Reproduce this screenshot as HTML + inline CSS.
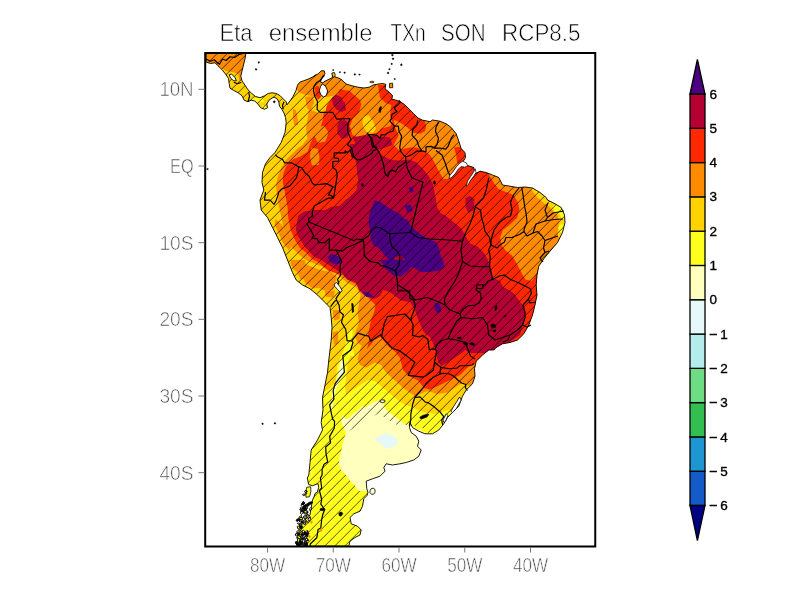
<!DOCTYPE html>
<html><head><meta charset="utf-8"><title>Eta ensemble TXn SON RCP8.5</title>
<style>
html,body{margin:0;padding:0;background:#fff;}
body{width:800px;height:600px;overflow:hidden;position:relative;font-family:"Liberation Sans",sans-serif;}
svg{position:absolute;left:0;top:0;display:block}
text{font-family:"Liberation Sans",sans-serif}
.ax{fill:#4e4e4e;font-size:21px;stroke:#fff;stroke-width:0.65px;paint-order:fill stroke}
.tt{fill:#000;font-size:24.6px;stroke:#fff;stroke-width:0.65px;paint-order:fill stroke}
.cb{fill:#000;font-size:13.5px;stroke:#000;stroke-width:0.35px}
</style></head><body>
<svg width="800" height="600" viewBox="0 0 800 600">
<defs>
<clipPath id="land"><path clip-rule="evenodd" d="M206,53.3 245.8,53.3 245,59 243.5,65 242,71 240.8,76.2 242,80.8 245,85.2 248,89.8 251.8,93.5 255.5,96.5 260,97.7 264.5,95.8 268.2,93.5 272,92.8 276.5,93.5 280.2,95.8 283.2,98.8 286.2,101.8 287,104.8 290,101 293,96.5 296,90.5 297.5,85.2 299.8,82.2 303.5,80.8 308,79.2 312.5,77 316.2,74.8 314.5,76 318.2,73.8 321.2,70.8 324.2,70.8 325,73.8 322.8,76 321.2,79 320.5,82 322.8,82.8 325,81.2 329.5,79 332.5,77.5 332.2,73.8 334,73 334.8,76.8 337,77.5 340.8,79 343.8,82 346.8,84.2 352,85.8 358,87.2 364,88 369.2,87.2 373,85 377.5,84.2 382,83.5 385.8,84.2 385,88.8 389.5,92.5 392.5,95.5 391.8,99.2 395.5,100 400,101.5 404.5,104.5 409,109 413.5,113.5 418,118 422.5,120.2 427,121 430,121.8 432.5,120 440,121.2 446.2,123.8 451.2,127.5 456.2,133.8 458.8,141.2 461.2,148.8 465,152.5 465.5,157.5 462.5,162.5 461.2,166.2 467.5,165.5 473.8,167.5 475,173.8 480,171.2 486.2,172.5 492.5,175 498.8,177.5 502.5,185 510,186.2 517.5,187.5 525,187 532.5,188 540,192.5 546.2,197.5 547.5,200 555,203.8 561.2,207.5 564.5,215 565,222.5 562.5,232.5 557.5,242.5 550,251.2 543.8,258.8 538.8,266.2 537,275 536.2,285 537,295 535,305 532.5,315 528.8,325 523.8,333.8 517.5,340 510,342.5 502.5,343.8 496.2,347.5 493.8,350 488.8,350 482.5,355 476.2,361.2 474.5,368.8 475,376.2 472.5,383.8 466.2,390 462.5,396.2 458.8,406.2 452.5,412.5 447.5,417.5 443.8,423.8 438.8,430 432.5,433.8 425,433.8 418.8,431.2 412.5,427.5 410,422.5 409.5,427.5 411.2,432.5 416.2,436.2 418.8,441.2 417.5,446.2 421.2,450 418.8,456.2 413.8,460 406.2,462.5 400,463.8 392.5,465 386.2,463.8 383.8,467.5 385,471.2 380,476.2 372.5,478.8 366.2,481.2 366.8,488.8 368,492.5 367,495.5 363.8,498.8 362.5,506.2 360,511.2 353.8,513.8 350,517.5 351.2,523.8 357.5,526.2 361.2,530 360,535 355,537.5 350,541.2 348.8,546.2 297.5,546.2 297.5,540 298.8,532.5 300,525 305,520 310,515 311.2,507.5 312.5,500 314,497 315,493.5 317.3,492 318.7,487.5 318,483.5 312.7,485.7 308.7,484.7 307.3,478 308.8,475 310,462.5 311.2,450 317.5,440 322.5,430 321.2,422.5 323,410 322.5,397.5 325,385 327.5,372.5 328.8,360 330,350 331.2,340 332,327.5 331.2,317.5 330,307.5 325,302.5 317.5,295 310,288.8 302.5,285 296.2,280 292.5,272.5 287.5,260 282.5,247.5 277.5,237.5 272.5,227.5 267.5,217.5 261.2,210 260,200 263.8,190 262,182.5 262.5,172.5 265.5,163.8 270,157.5 275,152.5 281.2,142.5 285,132.5 286.2,122.5 285.5,117.5 284,113 281.8,109.2 279.5,106.2 278.8,101.8 277.2,98.8 274.2,97.2 272,98 269,100.2 266.8,104 267.5,107.8 264.5,109.2 260.8,107.8 257.8,104 254.8,101 251,100.2 248,101.8 244.2,100.2 242,95.8 238.2,92.8 233.8,90.5 230,88.2 229.2,83.8 228.5,78.5 225.5,74 221.8,69.5 218,65.8 215,62.8 210.5,63.5 206,62ZM322.3,83.8 325.8,86.5 327.6,91 326.4,95.5 323.5,97 320.6,94.5 319.3,90.5 320.6,86.5ZM229.2,74.8 231.5,74 235.2,77.8 236.3,80.8 233.8,80.8 230.8,78.5Z"/></clipPath>
<clipPath id="frame"><rect x="205.2" y="53" width="389.75" height="493.5"/></clipPath>
</defs>
<g clip-path="url(#frame)">
<g clip-path="url(#land)">
<rect x="200" y="50" width="400" height="500" fill="#ffff1e"/>
<path fill="#ffffbe" d="M378.5,400.2 372.5,402.5 365,407.8 362,405.5 359,410 354.5,413 350,417.5 345.5,419 342.5,415.2 341,419 342.5,425 346.2,432.5 344,438.5 342.5,444.5 341,452 339.5,458 338.8,464 341,470 345.5,474.5 350,480.5 354.5,485 359,491 365,491 392,491 425,470 425,432.5 408.5,425 404,423.5 398,419 392,414.5 386,410 383,404Z"/>
<path fill="#e6f8f8" d="M371.8,437.8 375.5,438.5 380,435.5 386,433.2 390.5,434.8 395,437 398,440 397.2,443.8 393.5,446.8 389,448.7 384.5,447.5 381.5,444.5 377.8,441.5 374,439.2Z"/>
<path fill="#ffffbe" d="M340,361.2 342.8,360.6 344.4,365 343.8,371.2 341.9,376.2 339.4,381.2 336.9,387.5 334.4,393.8 333.1,402.5 332.5,410 330.6,410 331.2,400 333.1,390 335.6,382.5 338.1,375 339.4,367.5Z"/>
<path fill="#e6f8f8" d="M341.2,369.4 343.5,368.1 343.5,372.5 341.2,377.5 339.4,380 339.8,375Z"/>
<path fill="#ffd200" d="M352.5,330 352.5,340 351.25,352.5 347.5,365 346.25,375 345,387.5 346.25,395 352.5,390 360,385 368.75,380 375,381.25 382.5,387.5 390,393.75 397.5,400 405,405 412.5,407 417.5,410 425,412.5 435,413.75 445,411 452.5,408.75 458.75,403.75 466,397.5 620,380 620,40 180,40 180,420 322,420 324,392 330,388 336,382 337,365 343,352 347,340 349,330Z"/>
<path fill="#ffff1e" d="M552.5,206.25 557,203 566,206 568,218.75 561.9,218.75 559.4,213.75 555,211.25Z"/>
<path fill="#ffff1e" d="M560,224.4 568,224 568,232 560,232 558.5,228Z"/>
<path fill="#ffff1e" d="M251.8,98 263,97.7 263.8,101.8 257,102.5 251.8,101Z"/>
<path fill="#ffff1e" d="M261.5,106.2 266,105.5 268.2,108.5 264.5,110 260.8,108.8Z"/>
<path fill="#ffff1e" d="M345.5,344 351.5,343.2 353,350 354.5,356 344,356Z"/>
<path fill="#ff8c00" d="M363.75,338 360,350 357.5,358.75 360,365 366.25,367.5 375,362.5 381.25,365 385,371.25 391.25,377.5 397.5,382.5 402.5,387.5 407.5,391 415,396 420,394 427.5,391 437.5,394 447.5,392.5 455,387.5 462.5,382.5 470,386 620,380 620,237.5 558.75,237.5 557.5,233.75 558,227.5 559.4,221.25 557.5,215 552.5,210.6 548.75,206.25 543.75,203 537.5,197.5 532.5,191.25 528,186 528,170 620,120 620,40 290,40 292,92 296,89 300,93 306,95 312,96 318,98 326,112 318,113 311,110 309,110 307.5,119 306,129.5 307.5,138.5 303,144.5 297,149 291,155 285,161 280.5,170 277.5,177.5 276,186.5 277,195 279,207 281.5,217.5 283.75,229.5 287.5,240 292,247.5 299.5,255 306,260 313,263 320,266 324.5,266 332,271 339.5,276 347,282.5 356,287 360.5,294.5 359,303.5 357.5,312.5 359,323 356,330.5 355,337 358,343 362,346Z"/>
<path fill="#ff8c00" d="M204.5,51.5 248,51.5 245,65 243.5,74 242,80.8 239.3,80 238.2,74 234.5,72.5 226.2,71 218,65.8 215,62.8 210.5,63.5 204.5,62Z"/>
<path fill="#ffd200" d="M315,99 320,97 327,97 332,96 336,98 334,103 330,107 326,110 322,112 318,109 316,104Z"/>
<path fill="#ffd200" d="M363.2,116.5 368.5,115 373,121 376,128.5 373,133 367,132.2 363.2,127 362.5,121Z"/>
<path fill="#ff8c00" d="M290,260 305,260 306.5,267.5 299,270.5 293,266Z"/>
<path fill="#ff8c00" d="M303.5,275 320,276.5 321.5,287 312.5,288.5 305,282.5Z"/>
<path fill="#ff8c00" d="M324.5,290 335,290.8 333.5,297.5 326,296.8Z"/>
<path fill="#ff8c00" d="M296,269 309.5,266 311,278 300.5,279.5Z"/>
<path fill="#ff8c00" d="M290,263 296,260 305,264 320,270 332,272 337,277 333,290 323,290 315,286 305,282 302,274 294,270Z"/>
<path fill="#ff8c00" d="M275.5,219 282.2,225 286,235.5 292,246 289,250.5 283,243 278.5,232.5 274.8,225Z"/>
<path fill="#ff8c00" d="M293,109 296,110 297.5,117 298,125 294,125 293,117Z"/>
<path fill="#ff8c00" d="M305,97 313,96 314,103 310,111 307,108Z"/>
<path fill="#ff8c00" d="M332.5,310 340,310 339.7,319 334,320.5Z"/>
<path fill="#ff8c00" d="M332.5,332.5 337.8,331 338.5,343 334,345.2Z"/>
<path fill="#ff2800" d="M325,113 324,110 323,119 321,126.5 315,134 310.5,143 307.5,152 300,156.5 292.5,159.5 286.5,165.5 283.5,173 282.75,182 284.5,190 285.25,195 287.5,207 288.25,217.5 290.5,229.5 295,240 299.5,247.5 307,253.5 312,259 318,262 323,266.5 328,270.5 334,272.5 340,275 342.5,275 350,281 359,285.5 365,294.5 371,300.5 375.5,305 374,312.5 371,320 369.5,327.5 368,335 370,337 367,349 374.5,340 380.5,337 388,346 395.5,352 400,358 403,370 409,376 418,380.5 424,388 430,389.5 440,385 450,380 460,375 467.5,367.5 476,363 620,360 620,272 537.5,270.5 536,275 531.5,281 525.5,279.5 521,272 516.5,263 512,255.5 506,251 501.5,245 500,237.5 503,230 510.5,224 517,218 519.5,210 518,202.5 513.5,195 506,192 498.5,189 494,183 489.5,175.5 488,165 470,160 455,168 451,174.5 448,179 443.5,179 439,171.5 434.5,162.5 430,155 424,150.5 416.5,147.5 410.5,147.5 405,148.5 398.75,150 393.75,145 396.25,140 398.75,135 395,127.5 393.75,120 400,122.5 407.5,127.5 412.5,132.5 420,133.75 425,131.25 426.25,126.25 424,118 410,100 392,85 378,85 378.75,90 380,97.5 385,102.5 391.25,105 390,116.25 392.5,122.5 390,126.25 381.25,128.75 377.5,132.5 367.5,135 358.75,137.5 352.5,135 350,126.25 352.5,118.75 358.75,112.5 361.25,105 360,100 354,95 350,91 344,90 340,89 338,94 332,98 327,105Z"/>
<path fill="#ff8c00" d="M311.2,147.5 318,149 319.5,158 318.8,164.8 312,165.5 309.8,156.5Z"/>
<path fill="#ff8c00" d="M315,128 324,125.8 328.5,132.5 325.5,141.5 318,143 314.2,135.5Z"/>
<path fill="#ff2800" d="M315,87 318.5,85.5 320,91 321,97 318,100 315.5,95Z"/>
<path fill="#ff2800" d="M454,147.5 460,146.8 464.5,152 465.2,156.5 463,161 460,164.8 457,162.5 456.2,155Z"/>
<path fill="#ff2800" d="M415,123.5 422.5,124.2 424,130.2 418,132.5 414.2,128.8Z"/>
<path fill="#ff2800" d="M383.5,291.5 391,293 400,299 401.5,305 383.5,305Z"/>
<path fill="#b40032" d="M356.5,145 364,143.5 370,142 374.5,139 379,143.5 377.5,149.5 382,155.5 391,160 400,160.5 409,159.5 416.5,162.5 422.5,168.5 428.5,176 433,184 435,195 437.5,208 440.5,213 446,216 453.5,222 461,228 465,235 470,243.5 477.5,246.5 483.5,252.5 488,260 491,269 492.5,278 500,281 503,287 509,290 515,294.5 519,300.5 523,306 525,313 523,325 520,335 512.5,340 500,345 490,353 470,353 465,350 462.5,352.5 455,357.5 447.5,362.5 441,366 437.5,360 435,348 430,337 424,332.5 418,319 415,310 410,302 401,300.5 395,296 389,291.5 383,290 380,296 374,299 365,296 359,290 356,282.5 347,279.5 342.5,273.5 335,269 327.5,264 320,259 314,257 310,252 305,247 301,241 298,236 296,230 296.5,225 298,216 304,211.5 314.5,210 325,210 331,207 340,205.5 346,199.5 349,197.5 356.5,190 358,179.5 356.5,167.5 355,155.5Z"/>
<path fill="#b40032" d="M332,98 336,95 341,97 345,105 346,110 342,112 337,110 333,105Z"/>
<path fill="#b40032" d="M340,120 347.5,121.2 350,130 347.5,137.5 340,137.5Z"/>
<path fill="#b40032" d="M352.5,137.5 365,135 377.5,136.2 390,137.5 392.5,145 377.5,150 358.8,150Z"/>
<path fill="#b40032" d="M338.5,122.5 344.5,119.5 349,125.5 348.2,136 343,139 337.8,134.5Z"/>
<path fill="#b40032" d="M340,101.2 345,101.9 345.6,109.4 340,110Z"/>
<path fill="#b40032" d="M465.5,198 470,195.8 474.5,199.5 473.8,210 468.5,213 465.5,207Z"/>
<path fill="#b40032" d="M337.5,125 348,123.5 349.5,132.5 343.5,137 337.5,134Z"/>
<path fill="#b40032" d="M349.5,144.5 360,143 361.5,161 354,159.5 350.2,152Z"/>
<path fill="#4b0082" d="M374.5,200.5 380.5,202 386.5,206.5 394,211 400,214 404.5,219 407.5,219.5 410.5,225.5 415,230 421,234.5 428.5,239 436,242 439,248 440.5,255.5 443.5,261.5 444.25,267.5 439,270.5 430,272 421,272 413.5,267.5 406,267.5 400,269 397,272 392.5,275 389.5,270.5 383.5,267.5 385,263 388,258.5 383.5,254 379,248 373,245 370.75,239 370,230 368.5,222.5 369.25,215 371.5,208Z"/>
<path fill="#b40032" d="M394,257.8 400,255.5 404.5,258.5 403,263.8 396.2,264.5Z"/>
<path fill="#4b0082" d="M435,302.5 440,303.8 441.2,311.2 437.5,313.8 434.5,308.8Z"/>
<path fill="#4b0082" d="M328,257 331,254 336,255 340,258 342,261 340,264 335,264 330,261.5Z"/>
<path fill="#4b0082" d="M409,187.8 412.8,186.2 413.5,191.5 410.5,193Z"/>
<path fill="#4b0082" d="M404.5,205.8 410.5,204.2 412.8,211 407.5,212.5Z"/>
<path fill="#4b0082" d="M362.5,291.5 370,293 373.8,297.5 367,296.8Z"/>
<path fill="#4b0082" d="M362,291.5 368,292.2 371.8,296.8 366.5,296.8Z"/>
<path fill="#4b0082" d="M380,260 410,260 410,269 401,276.5 393.5,275 386,269Z"/>
<path fill="#4b0082" d="M329,260 341,260 339.5,263 332,263Z"/>
<clipPath id="hz"><path clip-rule="evenodd" d="M190,40H610V560H190ZM351.5,429.5 377.8,413.8 384.5,417.5 390.5,421.2 397.2,425 410,425 428,429.5 428,473 392,491 365,491 359,491 354.5,485 350,480.5 345.5,474.5 341,470 338.8,464 339.5,458 341,452 342.5,444.5 344,438.5 346.2,432.5Z"/></clipPath>
<g clip-path="url(#hz)"><path d="M200.75,0L-399.25,600M210.75,0L-389.25,600M220.75,0L-379.25,600M230.75,0L-369.25,600M240.75,0L-359.25,600M250.75,0L-349.25,600M260.75,0L-339.25,600M270.75,0L-329.25,600M280.75,0L-319.25,600M290.75,0L-309.25,600M300.75,0L-299.25,600M310.75,0L-289.25,600M320.75,0L-279.25,600M330.75,0L-269.25,600M340.75,0L-259.25,600M350.75,0L-249.25,600M360.75,0L-239.25,600M370.75,0L-229.25,600M380.75,0L-219.25,600M390.75,0L-209.25,600M400.75,0L-199.25,600M410.75,0L-189.25,600M420.75,0L-179.25,600M430.75,0L-169.25,600M440.75,0L-159.25,600M450.75,0L-149.25,600M460.75,0L-139.25,600M470.75,0L-129.25,600M480.75,0L-119.25,600M490.75,0L-109.25,600M500.75,0L-99.25,600M510.75,0L-89.25,600M520.75,0L-79.25,600M530.75,0L-69.25,600M540.75,0L-59.25,600M550.75,0L-49.25,600M560.75,0L-39.25,600M570.75,0L-29.25,600M580.75,0L-19.25,600M590.75,0L-9.25,600M600.75,0L0.75,600M610.75,0L10.75,600M620.75,0L20.75,600M630.75,0L30.75,600M640.75,0L40.75,600M650.75,0L50.75,600M660.75,0L60.75,600M670.75,0L70.75,600M680.75,0L80.75,600M690.75,0L90.75,600M700.75,0L100.75,600M710.75,0L110.75,600M720.75,0L120.75,600M730.75,0L130.75,600M740.75,0L140.75,600M750.75,0L150.75,600M760.75,0L160.75,600M770.75,0L170.75,600M780.75,0L180.75,600M790.75,0L190.75,600M800.75,0L200.75,600M810.75,0L210.75,600M820.75,0L220.75,600M830.75,0L230.75,600M840.75,0L240.75,600M850.75,0L250.75,600M860.75,0L260.75,600M870.75,0L270.75,600M880.75,0L280.75,600M890.75,0L290.75,600M900.75,0L300.75,600M910.75,0L310.75,600M920.75,0L320.75,600M930.75,0L330.75,600M940.75,0L340.75,600M950.75,0L350.75,600M960.75,0L360.75,600M970.75,0L370.75,600M980.75,0L380.75,600M990.75,0L390.75,600M1000.75,0L400.75,600M1010.75,0L410.75,600M1020.75,0L420.75,600M1030.75,0L430.75,600M1040.75,0L440.75,600M1050.75,0L450.75,600M1060.75,0L460.75,600M1070.75,0L470.75,600M1080.75,0L480.75,600M1090.75,0L490.75,600M1100.75,0L500.75,600M1110.75,0L510.75,600M1120.75,0L520.75,600M1130.75,0L530.75,600M1140.75,0L540.75,600M1150.75,0L550.75,600M1160.75,0L560.75,600M1170.75,0L570.75,600M1180.75,0L580.75,600M1190.75,0L590.75,600" stroke="#000" stroke-opacity="0.9" stroke-width="0.75" fill="none"/></g>
</g>
<path d="M206,53.3 245.8,53.3 245,59 243.5,65 242,71 240.8,76.2 242,80.8 245,85.2 248,89.8 251.8,93.5 255.5,96.5 260,97.7 264.5,95.8 268.2,93.5 272,92.8 276.5,93.5 280.2,95.8 283.2,98.8 286.2,101.8 287,104.8 290,101 293,96.5 296,90.5 297.5,85.2 299.8,82.2 303.5,80.8 308,79.2 312.5,77 316.2,74.8 314.5,76 318.2,73.8 321.2,70.8 324.2,70.8 325,73.8 322.8,76 321.2,79 320.5,82 322.8,82.8 325,81.2 329.5,79 332.5,77.5 332.2,73.8 334,73 334.8,76.8 337,77.5 340.8,79 343.8,82 346.8,84.2 352,85.8 358,87.2 364,88 369.2,87.2 373,85 377.5,84.2 382,83.5 385.8,84.2 385,88.8 389.5,92.5 392.5,95.5 391.8,99.2 395.5,100 400,101.5 404.5,104.5 409,109 413.5,113.5 418,118 422.5,120.2 427,121 430,121.8 432.5,120 440,121.2 446.2,123.8 451.2,127.5 456.2,133.8 458.8,141.2 461.2,148.8 465,152.5 465.5,157.5 462.5,162.5 461.2,166.2 467.5,165.5 473.8,167.5 475,173.8 480,171.2 486.2,172.5 492.5,175 498.8,177.5 502.5,185 510,186.2 517.5,187.5 525,187 532.5,188 540,192.5 546.2,197.5 547.5,200 555,203.8 561.2,207.5 564.5,215 565,222.5 562.5,232.5 557.5,242.5 550,251.2 543.8,258.8 538.8,266.2 537,275 536.2,285 537,295 535,305 532.5,315 528.8,325 523.8,333.8 517.5,340 510,342.5 502.5,343.8 496.2,347.5 493.8,350 488.8,350 482.5,355 476.2,361.2 474.5,368.8 475,376.2 472.5,383.8 466.2,390 462.5,396.2 458.8,406.2 452.5,412.5 447.5,417.5 443.8,423.8 438.8,430 432.5,433.8 425,433.8 418.8,431.2 412.5,427.5 410,422.5 409.5,427.5 411.2,432.5 416.2,436.2 418.8,441.2 417.5,446.2 421.2,450 418.8,456.2 413.8,460 406.2,462.5 400,463.8 392.5,465 386.2,463.8 383.8,467.5 385,471.2 380,476.2 372.5,478.8 366.2,481.2 366.8,488.8 368,492.5 367,495.5 363.8,498.8 362.5,506.2 360,511.2 353.8,513.8 350,517.5 351.2,523.8 357.5,526.2 361.2,530 360,535 355,537.5 350,541.2 348.8,546.2 297.5,546.2 297.5,540 298.8,532.5 300,525 305,520 310,515 311.2,507.5 312.5,500 314,497 315,493.5 317.3,492 318.7,487.5 318,483.5 312.7,485.7 308.7,484.7 307.3,478 308.8,475 310,462.5 311.2,450 317.5,440 322.5,430 321.2,422.5 323,410 322.5,397.5 325,385 327.5,372.5 328.8,360 330,350 331.2,340 332,327.5 331.2,317.5 330,307.5 325,302.5 317.5,295 310,288.8 302.5,285 296.2,280 292.5,272.5 287.5,260 282.5,247.5 277.5,237.5 272.5,227.5 267.5,217.5 261.2,210 260,200 263.8,190 262,182.5 262.5,172.5 265.5,163.8 270,157.5 275,152.5 281.2,142.5 285,132.5 286.2,122.5 285.5,117.5 284,113 281.8,109.2 279.5,106.2 278.8,101.8 277.2,98.8 274.2,97.2 272,98 269,100.2 266.8,104 267.5,107.8 264.5,109.2 260.8,107.8 257.8,104 254.8,101 251,100.2 248,101.8 244.2,100.2 242,95.8 238.2,92.8 233.8,90.5 230,88.2 229.2,83.8 228.5,78.5 225.5,74 221.8,69.5 218,65.8 215,62.8 210.5,63.5 206,62ZM322.3,83.8 325.8,86.5 327.6,91 326.4,95.5 323.5,97 320.6,94.5 319.3,90.5 320.6,86.5ZM229.2,74.8 231.5,74 235.2,77.8 236.3,80.8 233.8,80.8 230.8,78.5Z" fill="none" stroke="#000" stroke-width="0.9" stroke-linejoin="round"/>
<path d="M324.5,75.1 320.1,80.5 316.8,82.4 313.9,86.3 313.5,90.9 314.8,96.2 317.5,101.6 317.1,109.3 320.1,112.3 326.7,112.3 332.6,112.3 336.9,119.2 350,118.5 347.7,125.4 347.7,131.5 351,139.9 347.4,144.5 351.7,148.4 353.8,156.6" fill="none" stroke="#000" stroke-width="1.2" stroke-linejoin="round"/>
<path d="M353.8,156.6 357.6,160.2 362.2,158.7 365.5,157.2 370.1,154.5 372,153.3 373,150.7 376.6,149.5 376.6,147.2 372.4,146.8 371.4,142.2 371.1,138.4 368.1,134.6 372,134.6 377.3,135.7 379.9,138.4 381.2,134.9 385.2,134.6 389.1,132.3 393.1,131.1 394.4,126.1" fill="none" stroke="#000" stroke-width="1.2" stroke-linejoin="round"/>
<path d="M394.4,126.1 389.8,120.8 391.4,118.5 391.8,114.6 397,111.6 395.1,109.3 394.4,107.7 399,103.9 400.3,102.4 399,100.4" fill="none" stroke="#000" stroke-width="1.2" stroke-linejoin="round"/>
<path d="M394.4,126.1 398.3,126.1 399.1,131.5 401.6,136.1 399.7,147.6 401,151.8 404.3,155.6 406.9,156.8 412.1,154.5 416.8,151 420,151.4 422,151" fill="none" stroke="#000" stroke-width="1.2" stroke-linejoin="round"/>
<path d="M422,151 418.7,146.1 416.8,140.3 412.1,135.3 412.8,129.2 416.8,125.4 417.7,120.4" fill="none" stroke="#000" stroke-width="1.2" stroke-linejoin="round"/>
<path d="M422,151 426,151.8 426,146.8 431.2,146.4 434.5,148.1 439.8,148 445.7,149.1 448,146.4 451.6,137.6 453.9,134.6" fill="none" stroke="#000" stroke-width="1.2" stroke-linejoin="round"/>
<path d="M434.5,148.1 437.1,144.5 438.5,138.4 435.5,131.5 436.1,126.9 438.8,121.9" fill="none" stroke="#000" stroke-width="1.2" stroke-linejoin="round"/>
<path d="M353.8,156.6 352.3,156.8 350.3,149.9 347.1,152.6 345.1,150.8 345.4,152.8 337.2,152.8 334.2,152.8 334.2,157.8 338.5,158.3 338.8,161 332.9,161.6 332.8,167.2 335.9,169.8 337.2,173.7 336.9,177.5 333.6,198.2" fill="none" stroke="#000" stroke-width="1.2" stroke-linejoin="round"/>
<path d="M333.6,198.2 331.3,195.5 328.5,195 332.9,186.9 326.7,183.6 320.1,184.4 314.2,184.8 312.2,182.9 308.9,176 305,172.9 301.7,167.5 298.7,166.9" fill="none" stroke="#000" stroke-width="1.2" stroke-linejoin="round"/>
<path d="M298.7,166.9 296.4,165.6 291.8,162.9 284.6,162.9 282.6,159.5 277.4,156.8 275.1,154.9" fill="none" stroke="#000" stroke-width="1.2" stroke-linejoin="round"/>
<path d="M298.7,166.9 297.7,173.3 296.4,177.9 289.9,185.9 282,189 278.7,192.1 278,195.1 276,200.9 274.1,204.3 270.1,200.1 264.5,200.1 265.5,192.1" fill="none" stroke="#000" stroke-width="1.2" stroke-linejoin="round"/>
<path d="M333.6,198.2 328,198.2 314.2,205.9 312.2,212.4 312.5,215.8 308.6,218.9 308.9,222 306.9,223.9 313.5,235 312.2,238.1 317.5,238.8 318.8,242.7 324.7,242.7 329.3,238.5 329.3,250.3 336.1,250" fill="none" stroke="#000" stroke-width="1.2" stroke-linejoin="round"/>
<path d="M336.1,250 341.8,261.8 340.5,263.8 339.8,270.7 340.8,274.9 337.5,279.5 338.8,282.9 337.2,285.6 339.8,290.2 340.8,291.4 335.9,298.6 336.7,300.2" fill="none" stroke="#000" stroke-width="1.2" stroke-linejoin="round"/>
<path d="M336.7,300.2 334.6,301.3 330.6,306.7" fill="none" stroke="#000" stroke-width="1.2" stroke-linejoin="round"/>
<path d="M336.1,250 342.5,251.1 346.4,247.7 353,245 363.5,240.4 364.2,248.8 364.2,255.7 370.1,261.5 378.6,263 380.6,265.7 385.9,266.4 392.4,269.5 396,271.8 397.4,281.8 397.7,290.6 409.5,291 409.8,297.9 413.8,300.6 415.4,305.5 413.5,312.1 411.2,317.4 411.2,320.5" fill="none" stroke="#000" stroke-width="1.2" stroke-linejoin="round"/>
<path d="M411.2,320.5 404.9,314 387.5,316.7 384.2,323.6 381.6,336.6" fill="none" stroke="#000" stroke-width="1.2" stroke-linejoin="round"/>
<path d="M381.6,336.6 380.6,334.7 370.7,341.2 368.8,336.2 364.8,335.4 357.9,333.1 351.7,340.8" fill="none" stroke="#000" stroke-width="1.2" stroke-linejoin="round"/>
<path d="M351.7,340.8 347.1,340.8 346.4,334.7 345.7,329.3 341.5,322.4 343.4,314.7 339.8,311.7 339.2,305.5 336.7,300.2" fill="none" stroke="#000" stroke-width="1.2" stroke-linejoin="round"/>
<path d="M351.7,340.8 353,342.3 350.7,350 342.8,355.8 344.4,372.2 339.2,378.4 335.2,383.7 333.2,390.6 333.9,399.1 329.6,404.8 332.6,419 334.6,421.3 334.2,428.2 329.6,436.6 330.6,442.8 325.7,447 326,453.5 327.7,461.9 324,464.2 322.1,469.6 322.1,475 320.4,478 321.7,488 319.4,490.3 321.7,499.5 320.8,504.1 324.7,509.5 322.7,514.8 321.7,519.4 320.8,527.9 318.1,529.4 316.8,537.8 310.2,544 310.2,549.3" fill="none" stroke="#000" stroke-width="1.2" stroke-linejoin="round"/>
<path d="M411.2,320.5 413.1,325.1 412.5,335.4 419.7,337 422.7,335.4 427.9,339.3 429.2,349.6 434.2,348.9 436.8,350.4 434.5,362.3" fill="none" stroke="#000" stroke-width="1.2" stroke-linejoin="round"/>
<path d="M381.6,336.6 392.4,348.5 399,350.4 406.9,356.1 414.8,362.3 408.2,375.3 414.8,376.1 422.7,377.2 426,375.7 433.2,370.3 434.5,362.3" fill="none" stroke="#000" stroke-width="1.2" stroke-linejoin="round"/>
<path d="M434.5,362.3 440.8,367.3 439.8,374.2 433.2,377.2 426.9,382.6 422.7,388.3 414.8,397.5" fill="none" stroke="#000" stroke-width="1.2" stroke-linejoin="round"/>
<path d="M414.8,397.5 420,396.8 425.3,402.1 427.9,402.5 434.5,407.1 439.8,411.7 443.7,416.7 441.7,420.2 442.6,424.8" fill="none" stroke="#000" stroke-width="1.2" stroke-linejoin="round"/>
<path d="M414.8,397.5 412.8,403.7 410.8,414.4 410.8,419.8 409.5,425.9" fill="none" stroke="#000" stroke-width="1.2" stroke-linejoin="round"/>
<path d="M367,133 372,139 374,146.5 377.5,149.5 380.5,155.5 383.5,164.5 385,173.5 388,176.5 389.5,172 392.5,170 395.5,172 398,167.5 403,164 406,161.5" fill="none" stroke="#000" stroke-width="1.2" stroke-linejoin="round"/>
<path d="M405.5,157 406,161.5 407.5,169 412,178 423,182 410.5,232.5" fill="none" stroke="#000" stroke-width="1.2" stroke-linejoin="round"/>
<path d="M308.9,222 354.3,240.8" fill="none" stroke="#000" stroke-width="1.2" stroke-linejoin="round"/>
<path d="M354,240.5 356.5,239 362.5,239.75 368.5,236 372,230 376,227 380.5,227.75 385,230.75 389.5,233.75 410.5,232.5" fill="none" stroke="#000" stroke-width="1.2" stroke-linejoin="round"/>
<path d="M410.5,232.5 418,237.5 430,239 445,239.75 462.5,241.25" fill="none" stroke="#000" stroke-width="1.2" stroke-linejoin="round"/>
<path d="M389.5,233.75 390.25,240.5 391.75,246.5 397,251 400,255.5 399.25,264.5 395.5,270.5 397,276" fill="none" stroke="#000" stroke-width="1.2" stroke-linejoin="round"/>
<path d="M462.5,241.25 465.5,233 470,224 473,216 475.25,207" fill="none" stroke="#000" stroke-width="1.2" stroke-linejoin="round"/>
<path d="M462.5,241.25 461,249.5 462.5,261.5 458,275 455,281 449,290 444.5,299 445,305" fill="none" stroke="#000" stroke-width="1.2" stroke-linejoin="round"/>
<path d="M462.5,261.5 470,266 479,266.75 489.5,266.75" fill="none" stroke="#000" stroke-width="1.2" stroke-linejoin="round"/>
<path d="M489.5,266.75 490.25,257 488.75,249.5 491,245 489.5,237.5 485,231.5 483.5,224 481.5,218 480.5,210 475.25,207" fill="none" stroke="#000" stroke-width="1.2" stroke-linejoin="round"/>
<path d="M488.75,177.75 486.5,189 483.5,198 476,205.5 475.25,207" fill="none" stroke="#000" stroke-width="1.2" stroke-linejoin="round"/>
<path d="M436,150.5 442,155 445,162.5 448,171.5 450.25,176" fill="none" stroke="#000" stroke-width="1.2" stroke-linejoin="round"/>
<path d="M519,188 513.5,195 510.5,202.5 512,210 510.5,216 506,217.5 500,222 494,230 491,240 491,245" fill="none" stroke="#000" stroke-width="1.2" stroke-linejoin="round"/>
<path d="M521.75,187.5 523.25,196.5 524.75,207 526.25,214.5 527,222 524,229.5 524,231.5" fill="none" stroke="#000" stroke-width="1.2" stroke-linejoin="round"/>
<path d="M491,245 497,248 500,245 504.5,242 506,237.5 512,237.5 519.5,234.5 524,231.5 527,236 533,233 537.5,231.5 542,236 545,240.5 543.5,248 545,252.5 549,251" fill="none" stroke="#000" stroke-width="1.2" stroke-linejoin="round"/>
<path d="M533,233 536,224 545,221 554,219.5 563,219" fill="none" stroke="#000" stroke-width="1.2" stroke-linejoin="round"/>
<path d="M548,203 545,210 547.5,217.5 545,221" fill="none" stroke="#000" stroke-width="1.2" stroke-linejoin="round"/>
<path d="M564,211 553,213 547.5,217.5" fill="none" stroke="#000" stroke-width="1.2" stroke-linejoin="round"/>
<path d="M545,240.5 552,238 558,236" fill="none" stroke="#000" stroke-width="1.2" stroke-linejoin="round"/>
<path d="M545,252.5 540,258 543,262" fill="none" stroke="#000" stroke-width="1.2" stroke-linejoin="round"/>
<path d="M489.5,266.75 491.75,275 492.5,279.5 500,275.75 504.5,275 510.5,279.5 518,282.5 524,285.5 530,288.5 531.5,293 528.5,299 530,303 536,302" fill="none" stroke="#000" stroke-width="1.2" stroke-linejoin="round"/>
<path d="M476.75,284.75 482.75,284.75 482.75,288.5 476.75,288.5 476.75,284.75" fill="none" stroke="#000" stroke-width="1.2" stroke-linejoin="round"/>
<path d="M492.5,279.5 488,281 485,284.75 482.75,285.5" fill="none" stroke="#000" stroke-width="1.2" stroke-linejoin="round"/>
<path d="M476.75,287 476,290 480.5,293 481.25,299 479,303 475,305 467.5,306 462.5,310 460,313.75" fill="none" stroke="#000" stroke-width="1.2" stroke-linejoin="round"/>
<path d="M398,285 407.5,291 415,300 427.5,297.5 440,302.5 445,305" fill="none" stroke="#000" stroke-width="1.2" stroke-linejoin="round"/>
<path d="M445,305 450,310 460,313.75 461,317.5" fill="none" stroke="#000" stroke-width="1.2" stroke-linejoin="round"/>
<path d="M461,317.5 457,321 455.5,323 452.5,329 448,338.75 442,340.5 437.5,344 434.5,350" fill="none" stroke="#000" stroke-width="1.2" stroke-linejoin="round"/>
<path d="M461,317.5 472.5,318.75 482.5,317.5 487.5,325 488.75,335 495,340 502.5,337.5 510,335" fill="none" stroke="#000" stroke-width="1.2" stroke-linejoin="round"/>
<path d="M510,335 517.5,330 522.5,325 525,318 525,312.5 523,305 528.5,299" fill="none" stroke="#000" stroke-width="1.2" stroke-linejoin="round"/>
<path d="M522.5,325 527,327 531,325" fill="none" stroke="#000" stroke-width="1.2" stroke-linejoin="round"/>
<path d="M510,335 508,340 503,342" fill="none" stroke="#000" stroke-width="1.2" stroke-linejoin="round"/>
<path d="M448,338.75 454,339.5 460,341 466,342.5 467.5,348.5 470.5,356 475,359" fill="none" stroke="#000" stroke-width="1.2" stroke-linejoin="round"/>
<path d="M440.7,367.3 449.5,368.75 457,368 460,365.75 466,365.75 472,365 474,363.5" fill="none" stroke="#000" stroke-width="1.2" stroke-linejoin="round"/>
<path d="M439.75,374 443.5,373.25 449.5,374 454,376.25 457.75,380 461.5,383 466,384.5 465.25,387.5 467.5,390.5" fill="none" stroke="#000" stroke-width="1.2" stroke-linejoin="round"/>
<path d="M206,59 210.5,61.25 214.25,59.75 216.5,62 219.5,64.25 222.5,59 226.25,60.5 230,56.75 234.5,57.5 239,54.5 243.5,53.3" fill="none" stroke="#000" stroke-width="1.2" stroke-linejoin="round"/>
<path d="M233.75,82.25 237.5,83.75 241.25,82.25" fill="none" stroke="#000" stroke-width="1.2" stroke-linejoin="round"/>
<path d="M248.75,92 249.5,96.5 248,101.75" fill="none" stroke="#000" stroke-width="1.2" stroke-linejoin="round"/>
<path d="M284,101.75 282.5,105.5 283.25,109.25" fill="none" stroke="#000" stroke-width="1.2" stroke-linejoin="round"/>
<path d="M334.2,284 336.5,282.5 340.2,287 342.2,290.8 340.2,292.2 337.2,289.2 334.7,286.2Z" fill="#fff" stroke="#000" stroke-width="0.8" stroke-linejoin="round"/>
<path d="M351.8,303.5 353,303.8 353.6,311.8 352.4,312.5Z" fill="#000" stroke="#000" stroke-width="0.8" stroke-linejoin="round"/>
<path d="M380,400.6 381.9,399.8 384.8,400.2 385,401.9 382.5,402.5 380.2,402.1Z" fill="#fff" stroke="#000" stroke-width="0.8" stroke-linejoin="round"/>
<path d="M459.5,397 461.2,400 456.2,408.8 452.5,412.5 450.8,411.2 453.8,406.2 457,401.2Z" fill="#fff" stroke="#000" stroke-width="0.8" stroke-linejoin="round"/>
<path d="M446.2,413.8 448,415.5 445.5,421.2 443.8,422.5 443,420 445,416.2Z" fill="#fff" stroke="#000" stroke-width="0.8" stroke-linejoin="round"/>
<path d="M462.5,161.2 466.2,162.8 467.8,165.8 464.8,167.2 461,166.5 458,169.5 455,174 451.2,177.8 449,178.5 449.8,175.5 453.5,171 456.5,166.5 459.5,163.5Z" fill="#fff" stroke="#000" stroke-width="0.7" stroke-linejoin="round"/>
<path d="M475.2,168.8 476,172.5 473.8,176.2 470.8,180 467.8,185.2 466.2,186 467.8,180.8 470.8,176.2 473.3,172.5Z" fill="#fff" stroke="#000" stroke-width="0.7" stroke-linejoin="round"/>
<path d="M419.8,417.2 423.5,415.2 428.8,414.2 427.2,416.8 423.5,418.2 420.8,418.7Z" fill="#000" stroke="#000" stroke-width="0.8" stroke-linejoin="round"/>
<path d="M497.1,308.2 496.2,310 495.1,311 495,308.8 495.2,306.5 496.3,305.3 496.9,306.3Z" fill="#000" stroke="#000" stroke-width="0.5" stroke-linejoin="round"/>
<path d="M495.6,327.4 493.7,327.7 491.5,327.3 490.8,325.6 491.4,324.4 493.3,324 495.8,325.4Z" fill="#000" stroke="#000" stroke-width="0.5" stroke-linejoin="round"/>
<path d="M495.7,331 495.3,331.8 494.1,332.2 492.8,331.6 493.1,330.5 494.2,329.9 495.7,329.8Z" fill="#000" stroke="#000" stroke-width="0.5" stroke-linejoin="round"/>
<path d="M381,109.7 380.4,112.6 379.2,112.2 378.8,110.4 379.3,108.2 380.3,106.7 381.5,106.8Z" fill="#000" stroke="#000" stroke-width="0.5" stroke-linejoin="round"/>
<path d="M363.5,184.8 363.3,186 362.2,186.3 361.5,185.4 361.4,184.1 362.3,183.6 363.1,183.8Z" fill="#000" stroke="#000" stroke-width="0.5" stroke-linejoin="round"/>
<path d="M435.5,182.5 435.3,184 434.2,184.2 433.5,183.2 433.4,181.7 434.2,180.8 435.2,181.2Z" fill="#000" stroke="#000" stroke-width="0.5" stroke-linejoin="round"/>
<path d="M474.8,344.6 473.5,345.4 471.3,344.9 469.6,344.1 469.9,343 471.6,342.5 473.9,343.3Z" fill="#000" stroke="#000" stroke-width="0.5" stroke-linejoin="round"/>
<path d="M467.5,343.5 467.2,344.7 465.1,344.4 463.6,344 463.3,342.9 465.1,342.5 466.9,342.6Z" fill="#000" stroke="#000" stroke-width="0.5" stroke-linejoin="round"/>
<path d="M461,338 460.9,338.8 459,339.1 457.6,338.4 457.4,337.5 459.1,337.1 460.9,337.1Z" fill="#000" stroke="#000" stroke-width="0.5" stroke-linejoin="round"/>
<path d="M324.9,509.5 324,510.6 322,510.7 320.1,510.2 320,508.8 322,508.2 324.1,508.4Z" fill="#000" stroke="#000" stroke-width="0.5" stroke-linejoin="round"/>
<path d="M342.2,514.8 341,516.3 339.3,515.7 338.7,513.8 340.1,512 341.8,512.2 342.8,513.3Z" fill="#000" stroke="#000" stroke-width="0.5" stroke-linejoin="round"/>
<path d="M506.3,316 505.6,316.6 504.7,317 504.1,316.4 504.1,315.6 504.8,315.2 505.8,315.1Z" fill="#000" stroke="#000" stroke-width="0.5" stroke-linejoin="round"/>
<path d="M389.5,83.4 392.6,83.2 392.8,87.6 389.6,87.8Z" fill="#ff8c00" stroke="#000" stroke-width="0.8" stroke-linejoin="round"/>
<path d="M374.1,82 373.2,82.7 371.1,82.7 369.7,82 371.3,81.4 373.3,81.2Z" fill="#ff8c00" stroke="#000" stroke-width="0.7" stroke-linejoin="round"/>
<path d="M393.4,55 392.8,56.1 391.6,55.6 391.6,54.4 392.7,54.3Z" fill="#000" stroke="#000" stroke-width="0.4" stroke-linejoin="round"/>
<path d="M394.1,58.8 393.5,59.5 392.4,59.4 392.3,58.1 393.5,58.1Z" fill="#000" stroke="#000" stroke-width="0.4" stroke-linejoin="round"/>
<path d="M392.5,64 392,64.7 391.1,64.4 391,63.5 392,63.1Z" fill="#000" stroke="#000" stroke-width="0.4" stroke-linejoin="round"/>
<path d="M390.3,69.2 389.7,69.9 388.8,69.8 388.8,68.8 389.8,68.4Z" fill="#000" stroke="#000" stroke-width="0.4" stroke-linejoin="round"/>
<path d="M389.1,73 388.3,74 387.3,73.5 387.2,72.4 388.3,72.1Z" fill="#000" stroke="#000" stroke-width="0.4" stroke-linejoin="round"/>
<path d="M402.2,64.8 401.8,65.8 400.6,65.4 400.6,64.1 401.8,63.7Z" fill="#000" stroke="#000" stroke-width="0.4" stroke-linejoin="round"/>
<path d="M395.6,79 395,79.8 394.2,79.4 394,78.4 395,78.4Z" fill="#000" stroke="#000" stroke-width="0.4" stroke-linejoin="round"/>
<path d="M333.9,70 333.5,70.7 332.7,70.4 332.6,69.5 333.5,69.4Z" fill="#000" stroke="#000" stroke-width="0.4" stroke-linejoin="round"/>
<path d="M340.6,72.2 340.2,72.9 339.4,72.7 339.3,71.8 340.2,71.6Z" fill="#000" stroke="#000" stroke-width="0.4" stroke-linejoin="round"/>
<path d="M345.6,72.7 344.8,73.6 343.9,73.1 343.9,72.2 344.8,71.9Z" fill="#000" stroke="#000" stroke-width="0.4" stroke-linejoin="round"/>
<path d="M355.8,74.5 355.2,75.2 354.1,75.1 354.1,73.8 355.3,73.7Z" fill="#000" stroke="#000" stroke-width="0.4" stroke-linejoin="round"/>
<path d="M360.4,74.6 359.7,75.2 358.9,75 358.8,74.1 359.7,73.9Z" fill="#000" stroke="#000" stroke-width="0.4" stroke-linejoin="round"/>
<path d="M257.1,69.5 256.2,70.2 255.5,69.9 255.1,68.8 256.3,68.6Z" fill="#000" stroke="#000" stroke-width="0.4" stroke-linejoin="round"/>
<path d="M259.5,62.5 259,63.4 258.2,62.9 258,62 259.1,61.4Z" fill="#000" stroke="#000" stroke-width="0.4" stroke-linejoin="round"/>
<path d="M263.6,423.8 262.8,424.7 261.9,424.2 261.8,423.3 262.7,423.1Z" fill="#000" stroke="#000" stroke-width="0.4" stroke-linejoin="round"/>
<path d="M276,423.2 275.3,424.1 274.1,423.9 274.3,422.8 275.2,422.5Z" fill="#000" stroke="#000" stroke-width="0.4" stroke-linejoin="round"/>
<path d="M275.3,101.8 274.6,102.9 273.4,102.4 273.4,101.1 274.6,100.7Z" fill="#000" stroke="#000" stroke-width="0.4" stroke-linejoin="round"/>
<path d="M208.5,169 207.7,169.7 206.8,169.5 206.8,168.5 207.7,168.4Z" fill="#000" stroke="#000" stroke-width="0.4" stroke-linejoin="round"/>
<path d="M331.8,73 334.5,72.5 335.2,75 334.5,76.8 333.5,77.5 332.5,75.5Z" fill="#ffd200" stroke="#000" stroke-width="0.8" stroke-linejoin="round"/>
<path d="M375.1,491.5 374.7,493.3 373.1,494.3 371.3,494.2 369.9,492.6 370.2,490.5 371.2,488.6 373.2,488.2 375,489.4Z" fill="#ffffbe" stroke="#000" stroke-width="0.8" stroke-linejoin="round"/>
<path d="M306.7,487.3 310.7,486.7 310.9,491.3 309.6,496.7 306,497.3 305.6,492.7Z" fill="#ffff1e" stroke="#000" stroke-width="0.8" stroke-linejoin="round"/>
<path d="M303.2,506.6 303.6,505.8 304.3,505.1 304.7,506.3 304.6,507.4 303.8,507.7Z" fill="#fff" stroke="#000" stroke-width="0.9" stroke-linejoin="round"/>
<path d="M300.5,510.6 299.7,509.3 300.8,508 302.2,508.9 302.5,510.1 301.8,511.5Z" fill="#fff" stroke="#000" stroke-width="0.9" stroke-linejoin="round"/>
<path d="M307.6,506.2 307,505.4 307.4,504.7 308.4,504.4 308.7,505.4 308.6,506.1Z" fill="#fff" stroke="#000" stroke-width="0.9" stroke-linejoin="round"/>
<path d="M300.7,519.7 298.1,519.5 298.5,517.9 299.9,516.9 301.7,517 302,518.1Z" fill="#ffff1e" stroke="#000" stroke-width="0.9" stroke-linejoin="round"/>
<path d="M305.7,507.5 305.3,505.8 306.2,505.7 307.3,506.8 307.6,508.6 306.7,508.2Z" fill="#fff" stroke="#000" stroke-width="0.9" stroke-linejoin="round"/>
<path d="M302.8,512.7 301.5,514.6 300.5,513.3 300.7,511.7 301.9,509.7 303.3,510.7Z" fill="#fff" stroke="#000" stroke-width="0.9" stroke-linejoin="round"/>
<path d="M304.5,518.5 303.7,517 304.5,515.8 306.4,516.3 306.8,518.1 306,519.1Z" fill="#ffff1e" stroke="#000" stroke-width="0.9" stroke-linejoin="round"/>
<path d="M305.6,513.3 303.7,513 303.2,511.5 305.5,510.5 307.9,511.3 307.9,513Z" fill="#000" stroke="#000" stroke-width="0.9" stroke-linejoin="round"/>
<path d="M302.8,511.4 302,512 301.1,511.3 301.3,510.1 302.4,510.2 303.3,510.6Z" fill="#000" stroke="#000" stroke-width="0.9" stroke-linejoin="round"/>
<path d="M307.7,506 304.7,506.7 304.4,505.2 306.9,504 309.1,503.5 309.6,504.6Z" fill="#000" stroke="#000" stroke-width="0.9" stroke-linejoin="round"/>
<path d="M303.8,506.3 302.8,506.4 302.5,505.9 303.6,505.3 304.4,505.5 305.3,506Z" fill="#fff" stroke="#000" stroke-width="0.9" stroke-linejoin="round"/>
<path d="M309.3,521.8 308.3,522.8 307.6,522.4 308.1,521.1 309.1,520 309.4,520.7Z" fill="#fff" stroke="#000" stroke-width="0.9" stroke-linejoin="round"/>
<path d="M305.5,513 305.2,512.2 305.1,511.3 306.3,511.5 307.1,512.4 306.3,512.9Z" fill="#fff" stroke="#000" stroke-width="0.9" stroke-linejoin="round"/>
<path d="M309.8,504.6 307.2,504.6 307.8,503.5 309.1,502.2 312,501.8 312.5,503Z" fill="#000" stroke="#000" stroke-width="0.9" stroke-linejoin="round"/>
<path d="M303.3,507.4 301.9,506.6 301,505.1 302.4,503.5 303.7,504.9 303.9,505.9Z" fill="#fff" stroke="#000" stroke-width="0.9" stroke-linejoin="round"/>
<path d="M304.5,522.4 304.4,521.3 305.5,520.1 306.6,520.7 306.8,521.8 305.6,522.9Z" fill="#fff" stroke="#000" stroke-width="0.9" stroke-linejoin="round"/>
<path d="M311.8,509 311.1,510 309.7,510.5 309.7,508.7 310.5,507.6 311.5,507.9Z" fill="#fff" stroke="#000" stroke-width="0.9" stroke-linejoin="round"/>
<path d="M310.3,519.6 309.6,520.9 308.7,520.4 308,519.2 308.9,517.9 310.5,517.3Z" fill="#fff" stroke="#000" stroke-width="0.9" stroke-linejoin="round"/>
<path d="M304.1,503.9 302.8,503.8 302.5,502.6 303,501.4 304.1,502 304.7,502.8Z" fill="#fff" stroke="#000" stroke-width="0.9" stroke-linejoin="round"/>
<path d="M301.7,510.2 301.1,511.1 300.6,510.6 300.3,509.8 300.9,508.9 301.5,509.2Z" fill="#ffff1e" stroke="#000" stroke-width="0.9" stroke-linejoin="round"/>
<path d="M310,516.6 309,518.3 307.5,517.9 306.9,516.2 307.9,514.6 309,515.4Z" fill="#fff" stroke="#000" stroke-width="0.9" stroke-linejoin="round"/>
<path d="M304,513 304,510.7 305.8,510.5 306.8,511.6 306.9,513 305.8,513.9Z" fill="#ffff1e" stroke="#000" stroke-width="0.9" stroke-linejoin="round"/>
<path d="M301.2,519.5 299.4,519.7 299.3,518.2 301,517.4 302.6,517.9 302.9,519.3Z" fill="#ffff1e" stroke="#000" stroke-width="0.9" stroke-linejoin="round"/>
<path d="M300.2,517.4 299.6,516.6 300.4,515.8 301.6,515.7 301.4,516.8 301.1,518Z" fill="#ffff1e" stroke="#000" stroke-width="0.9" stroke-linejoin="round"/>
<path d="M303.9,503.7 302.8,503.9 302,503.4 302.7,502.5 303.5,502.2 304.1,502.5Z" fill="#fff" stroke="#000" stroke-width="0.9" stroke-linejoin="round"/>
<path d="M307.7,517.6 305.9,517.1 306,515.3 307.2,514.6 308.2,515.2 308.8,516.3Z" fill="#fff" stroke="#000" stroke-width="0.9" stroke-linejoin="round"/>
<path d="M301.4,504.3 302.4,502.9 303.4,502.5 304.8,502.9 304.1,504.2 303,504.8Z" fill="#000" stroke="#000" stroke-width="0.9" stroke-linejoin="round"/>
<path d="M305.7,515.1 306.1,514.3 306.7,514 307.6,514.2 307.4,515.2 306.6,515.5Z" fill="#ffff1e" stroke="#000" stroke-width="0.9" stroke-linejoin="round"/>
<path d="M301.2,509.1 300.3,507.8 301,507.5 302.2,508.4 302.4,509.6 302,510Z" fill="#fff" stroke="#000" stroke-width="0.9" stroke-linejoin="round"/>
<path d="M303.2,522.7 303.3,521.3 304,520 305.7,521 305.5,522.7 304.6,524.4Z" fill="#fff" stroke="#000" stroke-width="0.9" stroke-linejoin="round"/>
<path d="M304.1,510.5 302,508.6 303.2,506.8 305.4,506.4 306.3,508.2 306.6,510Z" fill="#000" stroke="#000" stroke-width="0.9" stroke-linejoin="round"/>
<path d="M304.9,518 303.2,517.5 303.4,516.4 305,516 307.2,516.5 307,517.9Z" fill="#fff" stroke="#000" stroke-width="0.9" stroke-linejoin="round"/>
<path d="M305.3,507 304.6,508.6 303.7,508.1 303.7,506.6 304.4,505.5 305.3,505.3Z" fill="#000" stroke="#000" stroke-width="0.9" stroke-linejoin="round"/>
<path d="M305.2,513.4 304.5,513.8 303.7,513.3 304,512.4 304.9,512.2 305.4,512.7Z" fill="#fff" stroke="#000" stroke-width="0.9" stroke-linejoin="round"/>
<path d="M302.8,524 301.4,524.1 300.6,523.2 301.6,521.9 302.9,522.3 303.9,522.8Z" fill="#ffff1e" stroke="#000" stroke-width="0.9" stroke-linejoin="round"/>
<path d="M301.8,525.2 301.5,527 299.8,527.1 299.5,525.1 300.2,523.4 301.4,524.2Z" fill="#fff" stroke="#000" stroke-width="0.9" stroke-linejoin="round"/>
<path d="M302.3,527.9 301.4,529.1 299.4,528.6 298.5,526.6 300.4,525.5 302.4,526.3Z" fill="#000" stroke="#000" stroke-width="0.9" stroke-linejoin="round"/>
<path d="M304.6,524.2 303.4,524 303.3,522.9 304.8,522.8 305.8,523.4 305.6,524.2Z" fill="#ffff1e" stroke="#000" stroke-width="0.9" stroke-linejoin="round"/>
<path d="M304.5,521.4 303.8,521 303.9,520.2 304.9,519.6 305.8,520.5 305.7,521.6Z" fill="#fff" stroke="#000" stroke-width="0.9" stroke-linejoin="round"/>
<path d="M302.8,521.9 302.3,523 301.2,522.7 300.9,521.8 301.2,520.8 302.5,520.7Z" fill="#000" stroke="#000" stroke-width="0.9" stroke-linejoin="round"/>
<path d="M300.1,520.3 299.8,521.7 298.9,521 298.3,520.3 298.9,519.4 299.8,519Z" fill="#000" stroke="#000" stroke-width="0.9" stroke-linejoin="round"/>
<path d="M298.7,524.6 297.7,523.8 297.6,522.9 299.1,523.2 300.3,523.7 300.3,524.6Z" fill="#fff" stroke="#000" stroke-width="0.9" stroke-linejoin="round"/>
<path d="M298,521.2 296.6,521.2 296.2,520.2 297.1,519.1 298.6,519.1 298.5,520.2Z" fill="#000" stroke="#000" stroke-width="0.9" stroke-linejoin="round"/>
<path d="M297.5,528.4 297.3,526.4 298.4,526.1 299.6,527 300,528.3 299.4,529.2Z" fill="#ffff1e" stroke="#000" stroke-width="0.9" stroke-linejoin="round"/>
<path d="M305.8,540.1 305.6,538.7 306,537.6 307.5,538.7 308.8,540.8 307.2,540.8Z" fill="#000" stroke="#000" stroke-width="0.9" stroke-linejoin="round"/>
<path d="M300.9,544.9 300,545 299.6,544.5 300.6,544.1 301.2,544 301.3,544.4Z" fill="#000" stroke="#000" stroke-width="0.9" stroke-linejoin="round"/>
<path d="M303.8,537 303,537.1 302,536.9 302.9,535.6 304.3,535.3 305.1,535.9Z" fill="#ffff1e" stroke="#000" stroke-width="0.9" stroke-linejoin="round"/>
<path d="M297.7,535.4 296.5,535.8 295.1,535 296,533.8 297.1,532.9 298.3,534.1Z" fill="#000" stroke="#000" stroke-width="0.9" stroke-linejoin="round"/>
<path d="M304.9,543.7 304.5,542.2 305.6,541.3 306.7,541.8 307.3,543 306.4,544.2Z" fill="#fff" stroke="#000" stroke-width="0.9" stroke-linejoin="round"/>
<path d="M302.5,539.7 301.7,540 300.9,539.7 301.3,538.4 302.5,538 303,538.8Z" fill="#000" stroke="#000" stroke-width="0.9" stroke-linejoin="round"/>
<path d="M302.1,541.2 300.9,541.4 300.1,540.5 300.4,539.3 301.6,539.2 302.4,540.1Z" fill="#ffff1e" stroke="#000" stroke-width="0.9" stroke-linejoin="round"/>
<path d="M299.8,545.2 298.3,545.1 298.4,544.3 299.7,543.6 300.6,544.3 301,544.9Z" fill="#ffff1e" stroke="#000" stroke-width="0.9" stroke-linejoin="round"/>
<path d="M307.8,543.9 306.8,545.5 305.1,544.6 304.7,543.4 305.2,542.1 306.8,542.7Z" fill="#ffff1e" stroke="#000" stroke-width="0.9" stroke-linejoin="round"/>
<path d="M303.2,543.3 302,542.6 302.4,542 303.6,541.9 304.7,542.6 304.8,543.5Z" fill="#ffff1e" stroke="#000" stroke-width="0.9" stroke-linejoin="round"/>
<path d="M303.9,534.5 303.5,534.1 303.4,533.6 304.2,533.5 304.7,534 304.7,534.6Z" fill="#fff" stroke="#000" stroke-width="0.9" stroke-linejoin="round"/>
<path d="M303,533.5 303.5,532.4 304.4,532.5 305.3,533.1 305,534.6 303.8,534.4Z" fill="#fff" stroke="#000" stroke-width="0.9" stroke-linejoin="round"/>
<path d="M295.6,542.9 295.9,541.6 296.8,541.3 297.6,542.2 297.8,543.8 296.6,543.9Z" fill="#fff" stroke="#000" stroke-width="0.9" stroke-linejoin="round"/>
<path d="M306.2,533.2 305.5,533.9 304.8,533.8 304.9,532.8 305.3,532.1 306,532.1Z" fill="#fff" stroke="#000" stroke-width="0.9" stroke-linejoin="round"/>
<path d="M308.3,532.8 307.4,534 306.4,534.2 306.1,532.5 307,531.5 307.9,531Z" fill="#fff" stroke="#000" stroke-width="0.9" stroke-linejoin="round"/>
<path d="M305.5,545.1 304.1,546 303.5,545 303,543.4 304.6,543.1 305.7,543.6Z" fill="#fff" stroke="#000" stroke-width="0.9" stroke-linejoin="round"/>
<path d="M297.8,546 296.3,544.7 297.5,544.5 298.9,544.8 299.8,546.3 299.3,547.1Z" fill="#fff" stroke="#000" stroke-width="0.9" stroke-linejoin="round"/>
<path d="M300.1,538.1 299.3,537.7 298.4,536.7 300,536.3 301.2,536.7 301.4,537.8Z" fill="#000" stroke="#000" stroke-width="0.9" stroke-linejoin="round"/>
<path d="M306.1,544.2 305,544.3 304.6,543.4 305.7,542.9 307,542.7 306.8,543.7Z" fill="#000" stroke="#000" stroke-width="0.9" stroke-linejoin="round"/>
<path d="M304.4,544.1 303.8,542.7 304.1,541.8 305.5,541.4 306.9,542.7 305.8,543.5Z" fill="#ffff1e" stroke="#000" stroke-width="0.9" stroke-linejoin="round"/>
<path d="M299,545 297.7,545.6 297.1,544.8 297.3,543.7 298.4,543 299.5,543.5Z" fill="#fff" stroke="#000" stroke-width="0.9" stroke-linejoin="round"/>
<path d="M301.8,535.9 300.8,535.3 300.6,534.4 301.7,533.9 303.6,533.9 303.4,535.4Z" fill="#000" stroke="#000" stroke-width="0.9" stroke-linejoin="round"/>
<path d="M305,534.7 305.6,533.1 306.9,532.2 308.3,532.6 308.4,534.2 306.7,534.6Z" fill="#ffff1e" stroke="#000" stroke-width="0.9" stroke-linejoin="round"/>
<path d="M302.5,544.8 300.2,544.1 300.9,543 302.8,543 305.1,543.6 303.9,544.4Z" fill="#fff" stroke="#000" stroke-width="0.9" stroke-linejoin="round"/>
<path d="M306.9,535.5 305.4,536.7 304.5,535.6 304.9,534 306.2,533.6 307.5,534Z" fill="#fff" stroke="#000" stroke-width="0.9" stroke-linejoin="round"/>
<path d="M303.5,532.2 302.9,531.9 303,531.4 303.6,531.1 304.5,531.4 304.1,531.9Z" fill="#fff" stroke="#000" stroke-width="0.9" stroke-linejoin="round"/>
<path d="M295.7,543.6 295.5,542 296.3,541.7 297.2,542.7 298,544.3 297.1,544.7Z" fill="#000" stroke="#000" stroke-width="0.9" stroke-linejoin="round"/>
<path d="M301.4,540.8 300.7,542.1 300,541.9 299.9,540.6 300.3,538.8 300.9,539.7Z" fill="#000" stroke="#000" stroke-width="0.9" stroke-linejoin="round"/>
<path d="M302.6,545.8 301.7,545.1 302.1,544.4 303,544.6 304,545.1 303.8,546.1Z" fill="#fff" stroke="#000" stroke-width="0.9" stroke-linejoin="round"/>
<path d="M305.1,539.7 303.5,539.1 303.5,537.8 304.7,537.2 305.9,537.4 305.9,538.4Z" fill="#000" stroke="#000" stroke-width="0.9" stroke-linejoin="round"/>
<path d="M300.2,543.6 298.8,543 299.2,541.4 300.5,541.1 301.8,541.6 301.9,543.3Z" fill="#fff" stroke="#000" stroke-width="0.9" stroke-linejoin="round"/>
<path d="M299.5,544.6 298.8,545.5 298.3,544.6 298.4,543.8 299.2,543.1 299.8,543.7Z" fill="#fff" stroke="#000" stroke-width="0.9" stroke-linejoin="round"/>
<path d="M307.3,544.8 307.2,547.2 305.7,546.3 304.4,544.8 305.4,542.7 307,543.2Z" fill="#000" stroke="#000" stroke-width="0.9" stroke-linejoin="round"/>
<path d="M302.8,539.6 302.9,539.1 303.2,539 303.6,539.4 303.8,540.1 303.2,540.3Z" fill="#ffff1e" stroke="#000" stroke-width="0.9" stroke-linejoin="round"/>
<path d="M304.5,542.7 303.2,542.4 303.3,541.7 304.5,541.4 305.5,541.8 305.4,542.3Z" fill="#fff" stroke="#000" stroke-width="0.9" stroke-linejoin="round"/>
<path d="M299.7,532.5 298.2,532.9 296.5,532.1 297.9,530.4 299.6,529.8 300.7,531Z" fill="#ffff1e" stroke="#000" stroke-width="0.9" stroke-linejoin="round"/>
<path d="M296.5,535.9 295.6,535.1 295.5,533.9 297.1,533.5 297.6,534.7 297.8,535.7Z" fill="#fff" stroke="#000" stroke-width="0.9" stroke-linejoin="round"/>
<path d="M297.5,538.7 296.7,538.3 296.7,537.5 297.7,537.4 298.8,537.8 298.2,538.4Z" fill="#fff" stroke="#000" stroke-width="0.9" stroke-linejoin="round"/>
<path d="M298.9,532.9 299.2,531.1 300.8,531.1 302.4,531.9 302.1,534.1 300.2,533.8Z" fill="#fff" stroke="#000" stroke-width="0.9" stroke-linejoin="round"/>
<path d="M297.2,546.3 296.8,544.5 297.8,543.4 299.4,544.1 300.7,545.9 298.9,546.3Z" fill="#000" stroke="#000" stroke-width="0.9" stroke-linejoin="round"/>
<path d="M307.6,531.9 306.6,532.5 305.6,532.2 306.2,531.1 306.9,530.3 307.6,530.6Z" fill="#fff" stroke="#000" stroke-width="0.9" stroke-linejoin="round"/>
<path d="M303.3,532.8 302.1,532.1 302.1,530.6 303.6,530.3 304.6,531 304.5,532.2Z" fill="#fff" stroke="#000" stroke-width="0.9" stroke-linejoin="round"/>
<path d="M303.3,541.9 303,540.8 303.5,540.3 304.6,541 305.1,542.4 304.2,542.5Z" fill="#fff" stroke="#000" stroke-width="0.9" stroke-linejoin="round"/>
<path d="M301,534.3 299.8,535.3 298.9,534.9 299.4,533.3 300.8,532.2 301.4,532.9Z" fill="#ffff1e" stroke="#000" stroke-width="0.9" stroke-linejoin="round"/>
<path d="M306.2,536 305.6,534.4 306.2,533.6 307.7,534.5 308,535.8 307.7,536.8Z" fill="#000" stroke="#000" stroke-width="0.9" stroke-linejoin="round"/>
<path d="M300.4,544 299,542.3 299.7,540.6 301.9,540.2 303.3,542 302.6,543.6Z" fill="#000" stroke="#000" stroke-width="0.9" stroke-linejoin="round"/>
<path d="M299.7,533.9 299.2,534.9 298.5,534.6 298.5,533.5 299.1,532.9 299.7,533Z" fill="#000" stroke="#000" stroke-width="0.9" stroke-linejoin="round"/>
<path d="M303.3,540.4 302.5,541.7 301.3,541 300.7,540.3 301.3,539.5 302.5,539.2Z" fill="#fff" stroke="#000" stroke-width="0.9" stroke-linejoin="round"/>
<path d="M307.5,535.1 305.9,534.6 306.2,533.5 307.4,533.1 309.1,533.3 308.4,534.3Z" fill="#000" stroke="#000" stroke-width="0.9" stroke-linejoin="round"/>
<path d="M303.9,538.1 302.7,537 303.5,536 304.7,535.9 306.7,536.7 305.8,538.3Z" fill="#ffff1e" stroke="#000" stroke-width="0.9" stroke-linejoin="round"/>
<path d="M304.3,540.4 302.9,540.2 303.3,539.3 304.3,539 305.1,539.4 305.6,540.2Z" fill="#fff" stroke="#000" stroke-width="0.9" stroke-linejoin="round"/>
<path d="M305.2,541.9 304.5,540.7 305.3,539.6 306.5,539 307.1,540.3 306.5,541.6Z" fill="#fff" stroke="#000" stroke-width="0.9" stroke-linejoin="round"/>
<path d="M306.2,538.8 305,539.1 304.6,538.5 304.5,537.1 305.9,536.8 306.6,537.5Z" fill="#fff" stroke="#000" stroke-width="0.9" stroke-linejoin="round"/>
<path d="M298.7,538.7 299.4,537.6 300.2,536.7 301.3,537.7 301,539.2 299.9,539.1Z" fill="#ffff1e" stroke="#000" stroke-width="0.9" stroke-linejoin="round"/>
<path d="M306.4,540.9 305.8,541.1 305.3,540.7 305.8,540.2 306.3,540 306.7,540.3Z" fill="#ffff1e" stroke="#000" stroke-width="0.9" stroke-linejoin="round"/>
<path d="M297.8,538.1 297.7,536.5 298.1,535.2 299.8,536.2 300.7,537.9 299.6,538.6Z" fill="#ffff1e" stroke="#000" stroke-width="0.9" stroke-linejoin="round"/>
<path d="M306.5,540.4 305.3,539.9 305.6,538.6 306.7,538.5 307.4,539 307.6,540Z" fill="#fff" stroke="#000" stroke-width="0.9" stroke-linejoin="round"/>
<path d="M305.4,534.3 303.7,534.8 304,533.5 304.5,532.4 306,532.3 305.9,533.3Z" fill="#000" stroke="#000" stroke-width="0.9" stroke-linejoin="round"/>
<path d="M303.8,543.3 302.7,542 302.4,540.7 303.3,539.6 304.3,540.5 304.5,541.8Z" fill="#fff" stroke="#000" stroke-width="0.9" stroke-linejoin="round"/>
<path d="M304.6,536.7 303.6,537.3 302.9,536.7 303.3,535.3 304.5,534.9 305.9,535.3Z" fill="#fff" stroke="#000" stroke-width="0.9" stroke-linejoin="round"/>
<path d="M306.9,492 306.2,492.2 305.7,491.5 306,490.7 306.7,491 307.4,491.4Z" fill="#000" stroke="#000" stroke-width="0.9" stroke-linejoin="round"/>
<path d="M306.2,493.7 306,493.2 306.5,493.1 306.9,493.2 307,493.7 306.7,493.9Z" fill="#fff" stroke="#000" stroke-width="0.9" stroke-linejoin="round"/>
<path d="M303.8,495.6 302.8,495.2 302.6,494.6 303.5,494.2 304.9,494 305.2,494.9Z" fill="#ffff1e" stroke="#000" stroke-width="0.9" stroke-linejoin="round"/>
<path d="M306.2,492.5 305.2,492.6 304.6,491.9 304.9,490.8 306.2,490.4 306.4,491.6Z" fill="#fff" stroke="#000" stroke-width="0.9" stroke-linejoin="round"/>
<path d="M312.7,522.5 311.9,523.6 311,523.7 310.1,522.5 310.9,520.9 312.3,520.5Z" fill="#ff8c00" stroke="none" stroke-width="0" stroke-linejoin="round"/>
<path d="M322.2,530.5 321.4,531.6 320.4,532 319.7,530.5 320.2,528.5 321.8,528.5Z" fill="#ff8c00" stroke="none" stroke-width="0" stroke-linejoin="round"/>
<path d="M310.7,536.5 310.1,538 309,537.7 308.2,536.5 309,535.2 310,535.3Z" fill="#ff8c00" stroke="none" stroke-width="0" stroke-linejoin="round"/>
</g>
<rect x="205.2" y="53" width="390.05" height="493.5" fill="none" stroke="#000" stroke-width="2"/>
<line x1="267.5" y1="547.5" x2="267.5" y2="552.5" stroke="#777" stroke-width="1"/>
<text class="ax" x="267.5" y="571.6" text-anchor="middle" textLength="35.2" lengthAdjust="spacingAndGlyphs">80W</text>
<line x1="333.25" y1="547.5" x2="333.25" y2="552.5" stroke="#777" stroke-width="1"/>
<text class="ax" x="333.25" y="571.6" text-anchor="middle" textLength="35.2" lengthAdjust="spacingAndGlyphs">70W</text>
<line x1="399" y1="547.5" x2="399" y2="552.5" stroke="#777" stroke-width="1"/>
<text class="ax" x="399" y="571.6" text-anchor="middle" textLength="35.2" lengthAdjust="spacingAndGlyphs">60W</text>
<line x1="464.75" y1="547.5" x2="464.75" y2="552.5" stroke="#777" stroke-width="1"/>
<text class="ax" x="464.75" y="571.6" text-anchor="middle" textLength="35.2" lengthAdjust="spacingAndGlyphs">50W</text>
<line x1="530.5" y1="547.5" x2="530.5" y2="552.5" stroke="#777" stroke-width="1"/>
<text class="ax" x="530.5" y="571.6" text-anchor="middle" textLength="35.2" lengthAdjust="spacingAndGlyphs">40W</text>
<line x1="198.5" y1="89.3" x2="204.5" y2="89.3" stroke="#777" stroke-width="1"/>
<text class="ax" x="193.6" y="96.2" text-anchor="end" textLength="34.2" lengthAdjust="spacingAndGlyphs">10N</text>
<line x1="198.5" y1="166" x2="204.5" y2="166" stroke="#777" stroke-width="1"/>
<text class="ax" x="193.6" y="172.9" text-anchor="end" textLength="23.5" lengthAdjust="spacingAndGlyphs">EQ</text>
<line x1="198.5" y1="242.7" x2="204.5" y2="242.7" stroke="#777" stroke-width="1"/>
<text class="ax" x="193.6" y="249.6" text-anchor="end" textLength="34.2" lengthAdjust="spacingAndGlyphs">10S</text>
<line x1="198.5" y1="319.3" x2="204.5" y2="319.3" stroke="#777" stroke-width="1"/>
<text class="ax" x="193.6" y="326.2" text-anchor="end" textLength="34.2" lengthAdjust="spacingAndGlyphs">20S</text>
<line x1="198.5" y1="396" x2="204.5" y2="396" stroke="#777" stroke-width="1"/>
<text class="ax" x="193.6" y="402.9" text-anchor="end" textLength="34.2" lengthAdjust="spacingAndGlyphs">30S</text>
<line x1="198.5" y1="472.7" x2="204.5" y2="472.7" stroke="#777" stroke-width="1"/>
<text class="ax" x="193.6" y="479.59999999999997" text-anchor="end" textLength="34.2" lengthAdjust="spacingAndGlyphs">40S</text>
<text class="tt" x="219.5" y="40.8" textLength="33.0" lengthAdjust="spacingAndGlyphs">Eta</text>
<text class="tt" x="268.75" y="40.8" textLength="103.75" lengthAdjust="spacingAndGlyphs">ensemble</text>
<text class="tt" x="390.5" y="40.8" textLength="35.0" lengthAdjust="spacingAndGlyphs">TXn</text>
<text class="tt" x="441" y="40.8" textLength="44.5" lengthAdjust="spacingAndGlyphs">SON</text>
<text class="tt" x="502" y="40.8" textLength="78.5" lengthAdjust="spacingAndGlyphs">RCP8.5</text>
<rect x="690" y="471.21" width="15" height="34.29" fill="#145ac8" stroke="#000" stroke-width="1.3"/>
<rect x="690" y="436.92" width="15" height="34.29" fill="#1e96d2" stroke="#000" stroke-width="1.3"/>
<rect x="690" y="402.62" width="15" height="34.29" fill="#32be50" stroke="#000" stroke-width="1.3"/>
<rect x="690" y="368.33" width="15" height="34.29" fill="#6edc82" stroke="#000" stroke-width="1.3"/>
<rect x="690" y="334.04" width="15" height="34.29" fill="#b4ecec" stroke="#000" stroke-width="1.3"/>
<rect x="690" y="299.75" width="15" height="34.29" fill="#e6f8f8" stroke="#000" stroke-width="1.3"/>
<rect x="690" y="265.46" width="15" height="34.29" fill="#ffffbe" stroke="#000" stroke-width="1.3"/>
<rect x="690" y="231.17" width="15" height="34.29" fill="#ffff1e" stroke="#000" stroke-width="1.3"/>
<rect x="690" y="196.88" width="15" height="34.29" fill="#ffd200" stroke="#000" stroke-width="1.3"/>
<rect x="690" y="162.58" width="15" height="34.29" fill="#ff8c00" stroke="#000" stroke-width="1.3"/>
<rect x="690" y="128.29" width="15" height="34.29" fill="#ff2800" stroke="#000" stroke-width="1.3"/>
<rect x="690" y="94.00" width="15" height="34.29" fill="#b40032" stroke="#000" stroke-width="1.3"/>
<path d="M690,94L697.4,59.5L705,94Z" fill="#4b0082" stroke="#000" stroke-width="1.3" stroke-linejoin="miter"/>
<path d="M690,505.5L697.4,540.5L705,505.5Z" fill="#000082" stroke="#000" stroke-width="1.3" stroke-linejoin="miter"/>
<text class="cb" x="709.3" y="510.10" textLength="8.4" lengthAdjust="spacingAndGlyphs">−</text><text class="cb" x="720.3" y="510.10">6</text>
<text class="cb" x="709.3" y="475.81" textLength="8.4" lengthAdjust="spacingAndGlyphs">−</text><text class="cb" x="720.3" y="475.81">5</text>
<text class="cb" x="709.3" y="441.52" textLength="8.4" lengthAdjust="spacingAndGlyphs">−</text><text class="cb" x="720.3" y="441.52">4</text>
<text class="cb" x="709.3" y="407.23" textLength="8.4" lengthAdjust="spacingAndGlyphs">−</text><text class="cb" x="720.3" y="407.23">3</text>
<text class="cb" x="709.3" y="372.93" textLength="8.4" lengthAdjust="spacingAndGlyphs">−</text><text class="cb" x="720.3" y="372.93">2</text>
<text class="cb" x="709.3" y="338.64" textLength="8.4" lengthAdjust="spacingAndGlyphs">−</text><text class="cb" x="720.3" y="338.64">1</text>
<text class="cb" x="709.5" y="304.35">0</text>
<text class="cb" x="709.5" y="270.06">1</text>
<text class="cb" x="709.5" y="235.77">2</text>
<text class="cb" x="709.5" y="201.47">3</text>
<text class="cb" x="709.5" y="167.18">4</text>
<text class="cb" x="709.5" y="132.89">5</text>
<text class="cb" x="709.5" y="98.60">6</text>
</svg>
</body></html>
